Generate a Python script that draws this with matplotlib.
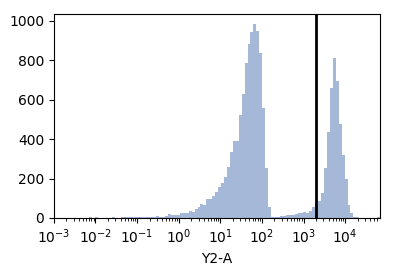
import numpy as np
import matplotlib
matplotlib.use("Agg")
import matplotlib.pyplot as plt

# histogram of Y2-A, log-spaced bins (log10 of first / last bin edge)
log_lo, log_hi = -2.94, 4.836
n_bins = 110
counts = [
    0, 0, 0, 0, 0, 0, 0, 0, 0, 0, 0, 5, 0, 5, 0, 0, 0, 0, 0, 5,
    0, 0, 5, 5, 5, 5, 5, 5, 5, 5, 5, 5, 5, 5, 10, 5, 5, 10, 20, 15,
    15, 15, 25, 25, 25, 35, 30, 45, 55, 70, 65, 96, 96, 111, 131, 157, 177, 207, 258, 333,
    389, 389, 525, 631, 788, 884, 945, 986, 950, 839, 556, 253, 56, 5, 5, 5, 10, 10, 15, 15,
    15, 20, 25, 25, 30, 25, 35, 55, 70, 86, 126, 253, 434, 662, 813, 697, 475, 318, 197, 66,
    25, 5, 5, 0, 0, 0, 0, 0, 0, 5,
]
gate = 2000
xlim = (1e-3, 10 ** 4.836)

edges = np.logspace(log_lo, log_hi, n_bins + 1)
centers = np.sqrt(edges[:-1] * edges[1:])

fig, ax = plt.subplots(figsize=(4.05, 2.7), dpi=100)
fig.subplots_adjust(left=0.133, right=0.938, bottom=0.193, top=0.948)

ax.hist(centers, bins=edges, weights=counts, color="#4c72b0", alpha=0.5)
ax.axvline(gate, color="k", lw=2)

ax.set_xscale("log")
ax.set_xlim(*xlim)
ax.set_xlabel("Y2-A")
ax.set_ylabel("Count")

fig.savefig("out.png", dpi=100)
